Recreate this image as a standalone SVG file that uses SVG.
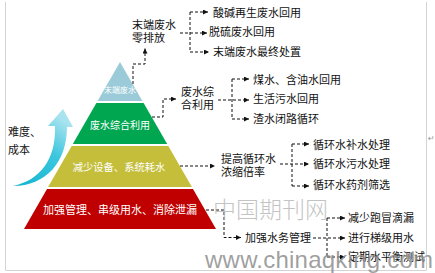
<svg xmlns="http://www.w3.org/2000/svg" width="435" height="273" viewBox="0 0 435 273">
<defs>
<style>
.lbl{font-family:"Noto Sans CJK SC","Liberation Sans",sans-serif;font-size:11px;fill:#111}
.wt{font-family:"Noto Sans CJK SC","Liberation Sans",sans-serif;fill:#fff;text-anchor:middle}
.dash{fill:none;stroke:#111;stroke-width:1;stroke-dasharray:3 2}
.frame{stroke:#d4d4d4;stroke-width:1;fill:none}
</style>
<marker id="ah" markerUnits="userSpaceOnUse" markerWidth="6" markerHeight="5" refX="5" refY="2.5" orient="auto">
<path d="M0,0 L5,2.5 L0,5 Z" fill="#111"/>
</marker>
<linearGradient id="arrG" x1="0" y1="1" x2="0.6" y2="0">
<stop offset="0" stop-color="#12b4cf"/>
<stop offset="0.6" stop-color="#3cc6de"/>
<stop offset="1" stop-color="#a9e3ef"/>
</linearGradient>
</defs>
<rect width="435" height="273" fill="#fff"/>
<g id="frame">
<path class="frame" d="M5.5 2 V270.5 H426.5 V2"/>
<text x="428" y="141" font-family="DejaVu Sans,sans-serif" font-size="8" fill="#999">↵</text>
</g>
<g id="pyramid">
<g id="layer1"><polygon points="120,62 142.4,101 97.6,101" fill="#9bcbd9"/><text class="wt" x="120" y="93" font-size="8">末端废水</text></g>
<g id="layer2"><polygon points="96.4,103 143.6,103 167.2,144 72.8,144" fill="#00a650"/><text class="wt" x="120" y="128.5" font-size="10">废水综合利用</text></g>
<g id="layer3"><polygon points="71.7,146 168.3,146 191.9,187 48.1,187" fill="#c4be3b"/><text class="wt" x="119" y="170.5" font-size="10.3">减少设备、系统耗水</text></g>
<g id="layer4"><polygon points="47,189 193,189 216,229 24,229" fill="#c00000"/><text class="wt" x="120" y="214" font-size="11">加强管理、串级用水、消除泄漏</text></g>
</g>
<g id="cost">
<path d="M13 186 C40 180 56 160 55 126 L48 126 L63 109 L73 127 L67 127 C67 162 46 186 13 186 Z" fill="url(#arrG)"/>
<text class="lbl" x="8" y="136" font-size="12.5">难度、</text>
<text class="lbl" x="8" y="154" font-size="12.5">成本</text>
</g>
<g id="connectors">
<path class="dash" d="M133 84 V64 H145 V48.5" marker-end="url(#ah)"/>
<path class="dash" d="M180 33 H207" marker-end="url(#ah)"/>
<path class="dash" d="M190 12 V52"/>
<path class="dash" d="M190 12 H208" marker-end="url(#ah)"/>
<path class="dash" d="M190 52 H209" marker-end="url(#ah)"/>
<path class="dash" d="M152 117 H163 V99 H176" marker-end="url(#ah)"/>
<path class="dash" d="M218 100 H249" marker-end="url(#ah)"/>
<path class="dash" d="M232 79 V119"/>
<path class="dash" d="M232 79 H249" marker-end="url(#ah)"/>
<path class="dash" d="M232 119 H249" marker-end="url(#ah)"/>
<path class="dash" d="M180 166 H215" marker-end="url(#ah)"/>
<path class="dash" d="M280 164 H309" marker-end="url(#ah)"/>
<path class="dash" d="M292 144 V186"/>
<path class="dash" d="M292 144 H309" marker-end="url(#ah)"/>
<path class="dash" d="M292 186 H309" marker-end="url(#ah)"/>
<path class="dash" d="M206 210 H224 V237.5 H241" marker-end="url(#ah)"/>
<path class="dash" d="M313 238 H345" marker-end="url(#ah)"/>
<path class="dash" d="M327 218 V257"/>
<path class="dash" d="M327 218 H345" marker-end="url(#ah)"/>
<path class="dash" d="M327 257 H345" marker-end="url(#ah)"/>
</g>
<g id="n1"><text class="lbl" x="132" y="28.5" font-size="11.3">末端废水</text><text class="lbl" x="132" y="41.5" font-size="11.3">零排放</text></g>
<g id="n1a"><text class="lbl" x="213" y="16.5">酸碱再生废水回用</text></g>
<g id="n1b"><text class="lbl" x="209" y="35.5">脱硫废水回用</text></g>
<g id="n1c"><text class="lbl" x="213" y="55.5">末端废水最终处置</text></g>
<g id="n2"><text class="lbl" x="181" y="96" font-size="10.8">废水综</text><text class="lbl" x="181" y="109" font-size="10.8">合利用</text></g>
<g id="n2a"><text class="lbl" x="253" y="84">煤水、含油水回用</text></g>
<g id="n2b"><text class="lbl" x="253" y="103">生活污水回用</text></g>
<g id="n2c"><text class="lbl" x="253" y="123">渣水闭路循环</text></g>
<g id="n3"><text class="lbl" x="221" y="162.5">提高循环水</text><text class="lbl" x="221" y="175.5">浓缩倍率</text></g>
<g id="n3a"><text class="lbl" x="313" y="149">循环水补水处理</text></g>
<g id="n3b"><text class="lbl" x="313" y="168">循环水污水处理</text></g>
<g id="n3c"><text class="lbl" x="313" y="189">循环水药剂筛选</text></g>
<g id="n4"><text class="lbl" x="245" y="242">加强水务管理</text></g>
<g id="n4a"><text class="lbl" x="348" y="222">减少跑冒滴漏</text></g>
<g id="n4b"><text class="lbl" x="348" y="242">进行梯级用水</text></g>
<g id="n4c"><text class="lbl" x="348" y="261">定期水平衡测试</text></g>
<g id="watermark">
<text x="213" y="218" font-family="Noto Sans CJK SC,sans-serif" font-size="23" font-weight="300" fill="#b8b8b8" fill-opacity="0.85">中国期刊网</text>
<text x="205" y="268" font-family="Liberation Sans,sans-serif" font-size="24" textLength="228" lengthAdjust="spacing" fill="#8e8e8e" fill-opacity="0.85">www.chinaqking.com</text>
</g>
</svg>
